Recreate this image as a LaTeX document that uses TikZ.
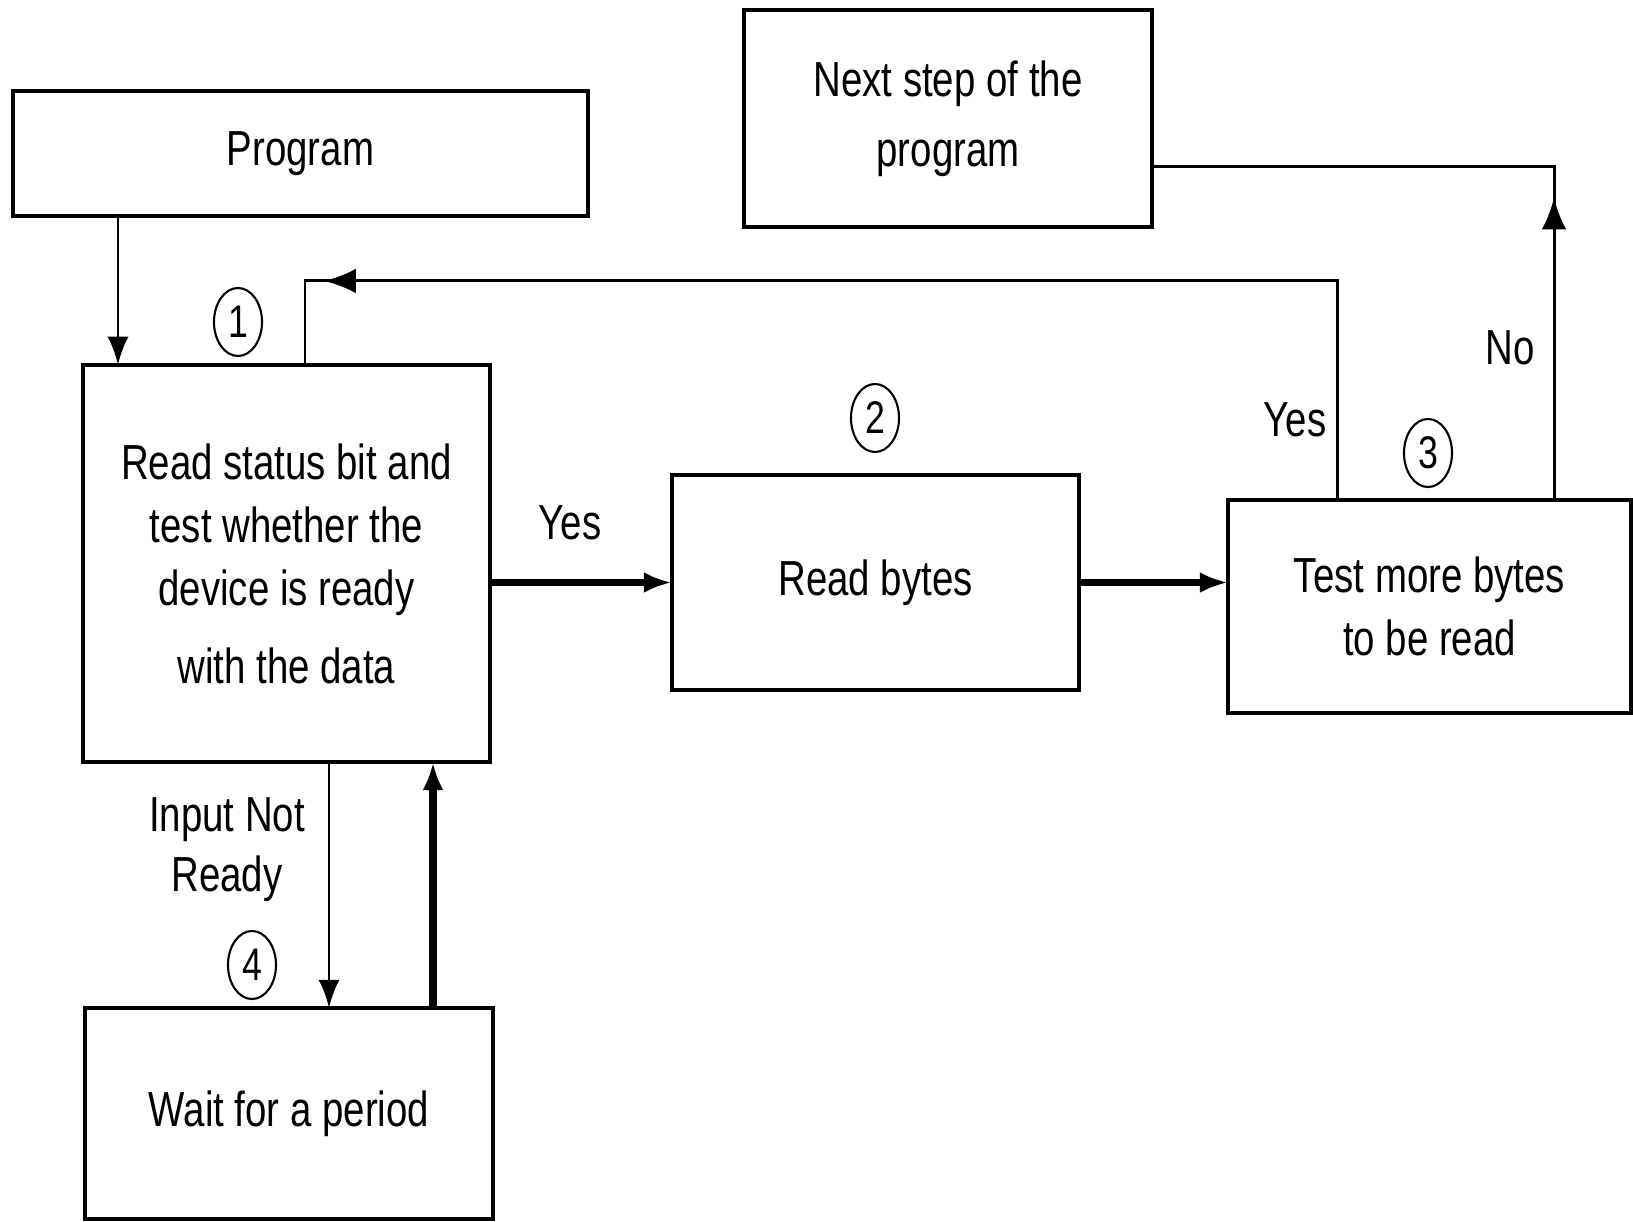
\documentclass[tikz,border=0pt]{standalone}
\usepackage{fontspec}
\setmainfont{Liberation Sans}[FakeStretch=0.78]
\usetikzlibrary{arrows.meta,shapes.geometric,decorations.markings}

\begin{document}
\begin{tikzpicture}[x=0.01cm,y=-0.01cm,
  box/.style={draw,line width=1.1pt,inner sep=0pt,outer sep=0pt,align=center,font=\fontsize{14}{18}\selectfont},
  lbl/.style={align=center,inner sep=0pt,font=\fontsize{14}{17}\selectfont},
  num/.style={draw,ellipse,line width=0.6pt,minimum width=0.48cm,minimum height=0.68cm,inner sep=0pt,font=\fontsize{13}{15}\selectfont},
  thinline/.style={line width=0.85pt},
  thickline/.style={line width=2pt},
  tip/.style={-{Latex[length=8pt,width=6pt]}},
  midtip/.style={decoration={markings,mark=at position #1 with {\arrow{Latex[length=9pt,width=7pt]}}},postaction={decorate}}]
\useasboundingbox (0,0) rectangle (1633,1222);
\node[box,minimum width=5.75cm,minimum height=1.25cm] (prog) at (300.5,153.5) {Program};
\node[box,minimum width=4.08cm,minimum height=2.17cm] (next) at (948,118.5) {Next step of the\\[2pt]program};
\node[box,minimum width=4.07cm,minimum height=3.97cm] (status) at (286.5,563.5) {Read status bit and\\test whether the\\device is ready\\[4pt]with the data};
\node[box,minimum width=4.07cm,minimum height=2.15cm] (readb) at (875.5,582.5) {Read bytes};
\node[box,minimum width=4.03cm,minimum height=2.13cm] (testb) at (1429.5,606.5) {Test more bytes\\to be read};
\node[box,minimum width=4.08cm,minimum height=2.11cm] (wait) at (289,1113.5) {Wait for a period};
\node[num] (n1) at (238,322) {1};
\node[num] (n2) at (875,418) {2};
\node[num] (n3) at (1428,453) {3};
\node[num] (n4) at (252,965) {4};
\node[lbl] (yes1) at (570,523) {Yes};
\node[lbl] (yes2) at (1295,420) {Yes};
\node[lbl] (no) at (1510,348) {No};
\node[lbl] (notready) at (227,850) {Input Not\\Ready};
\draw[thinline,tip] (prog.south -| 118,0) -- (status.north -| 118,0);
\draw[thinline,midtip=-1.03cm] (testb.north -| 1337,0) -- (1337,281) -| (status.north -| 305,0);
\draw[thinline,midtip=3.02cm] (testb.north -| 1554,0) |- (next.east |- 0,167);
\draw[thickline,tip] (status.east |- readb.west) -- (readb.west);
\draw[thickline,tip] (readb.east) -- (readb.east -| testb.west);
\draw[thinline,tip] (status.south -| 329,0) -- (wait.north -| 329,0);
\draw[thickline,tip] (wait.north -| 433,0) -- (status.south -| 433,0);
\end{tikzpicture}
\end{document}
